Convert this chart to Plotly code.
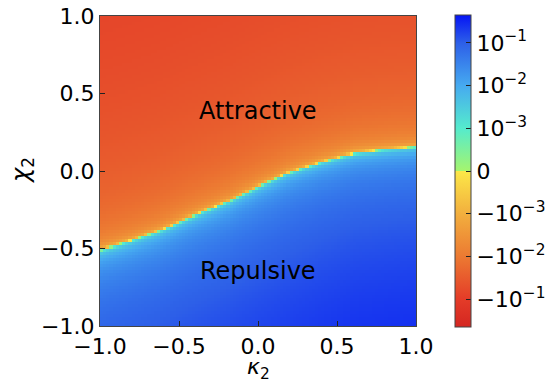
import numpy as np
import plotly.graph_objects as go

# Sign change line chi_2(kappa_2) separating the two regimes
kappa_knots = [-1.0, -0.826, -0.612, -0.401, -0.192, -0.002, 0.189, 0.404, 0.613, 0.822, 1.0]
boundary_chi = [-0.510, -0.456, -0.381, -0.284, -0.198, -0.101, -0.013, 0.060, 0.116, 0.140, 0.155]
# Magnitude scale on each side of the sign-change line
attract_scale = [0.05, 0.05, 0.05, 0.05, 0.05, 0.05, 0.05, 0.05, 0.05, 0.05, 0.05]
repulse_scale = [0.16, 0.165, 0.17, 0.175, 0.18, 0.185, 0.19, 0.20, 0.21, 0.215, 0.22]
ATTRACT_POWER = 0.8
REPULSE_POWER = 1.0

colorbar_ticks = [-0.1, -0.01, -0.001, 0.0, 0.001, 0.01, 0.1]
colorbar_text = ["\u221210<sup>\u22121</sup>", "\u221210<sup>\u22122</sup>", "\u221210<sup>\u22123</sup>", "0",
                 "10<sup>\u22123</sup>", "10<sup>\u22122</sup>", "10<sup>\u22121</sup>"]
axis_ticks = [-1.0, -0.5, 0.0, 0.5, 1.0]
axis_text = ["\u22121.0", "\u22120.5", "0.0", "0.5", "1.0"]

VMAX = 0.45
LINTHRESH = 1e-3


def symlog(v):
    v = np.asarray(v, dtype=float)
    a = np.abs(v)
    out = np.where(a <= LINTHRESH, a / LINTHRESH, 1.0 + np.log10(np.maximum(a, LINTHRESH) / LINTHRESH))
    return np.sign(v) * out


n = 100
edges = np.linspace(-1, 1, n + 1)
centers = 0.5 * (edges[:-1] + edges[1:])
K, C = np.meshgrid(centers, centers)
b = np.interp(K, kappa_knots, boundary_chi)
sa = np.interp(K, kappa_knots, attract_scale)
sr = np.interp(K, kappa_knots, repulse_scale)
d = C - b
value = np.where(d > 0, -sa * np.abs(d) ** ATTRACT_POWER, sr * np.abs(d) ** REPULSE_POWER)
value = np.clip(value, -VMAX, VMAX)
tz = symlog(value)
T = float(symlog(VMAX))


def pos(t):
    return (t + T) / (2 * T)


colorscale = [
    [0.0, "rgb(212,38,33)"],
    [pos(-3), "rgb(228,60,40)"],
    [pos(-2), "rgb(236,122,50)"],
    [pos(-1), "rgb(242,175,62)"],
    [0.5, "rgb(252,232,72)"],
    [0.5, "rgb(165,245,110)"],
    [pos(1), "rgb(85,235,205)"],
    [pos(2), "rgb(70,170,240)"],
    [pos(3), "rgb(45,95,232)"],
    [1.0, "rgb(5,20,245)"],
]

fig = go.Figure()
fig.add_trace(go.Heatmap(
    x=centers, y=centers, z=tz,
    zmin=-T, zmax=T, colorscale=colorscale,
    colorbar=dict(
        tickvals=list(symlog(colorbar_ticks)), ticktext=colorbar_text,
        ticks="inside", ticklen=5, tickcolor="#222", tickwidth=1,
        thickness=16, len=312 / 310, lenmode="fraction", y=0.5, yanchor="middle",
        x=(455 - 100) / 316, xanchor="left", xpad=0, ypad=0,
        outlinewidth=1, outlinecolor="#444",
        tickfont=dict(family="DejaVu Sans", size=22, color="black"),
    ),
    hoverinfo="skip",
))

axis_common = dict(
    range=[-1, 1], tickvals=axis_ticks, ticktext=axis_text,
    ticks="inside", ticklen=5, tickcolor="#222", tickwidth=1,
    showline=True, mirror=True, linecolor="#444", linewidth=1.2,
    showgrid=False, zeroline=False,
    tickfont=dict(family="DejaVu Sans", size=22, color="black"),
)
fig.update_xaxes(**axis_common)
fig.update_yaxes(**axis_common)

fig.add_annotation(x=0.0, y=0.39, text="Attractive", showarrow=False,
                   font=dict(family="DejaVu Sans", size=24, color="black"))
fig.add_annotation(x=0.0, y=-0.645, text="Repulsive", showarrow=False,
                   font=dict(family="DejaVu Sans", size=24, color="black"))
fig.add_annotation(xref="paper", yref="paper", x=0.5, y=-(368 - 326) / 310,
                   xanchor="center", yanchor="middle",
                   text="<i>\u03ba</i><sub>2</sub>", showarrow=False,
                   font=dict(family="DejaVu Sans", size=22, color="black"))
fig.add_annotation(xref="paper", yref="paper", x=(22 - 100) / 316, y=0.5,
                   xanchor="center", yanchor="middle",
                   text="<i>\u03c7</i><sub>2</sub>", showarrow=False, textangle=-90,
                   font=dict(family="DejaVu Sans", size=24, color="black"))

fig.update_layout(
    width=550, height=381,
    margin=dict(l=100, r=134, t=16, b=55, autoexpand=False),
    paper_bgcolor="white", plot_bgcolor="white",
    showlegend=False,
)

fig.write_html("out.html")
